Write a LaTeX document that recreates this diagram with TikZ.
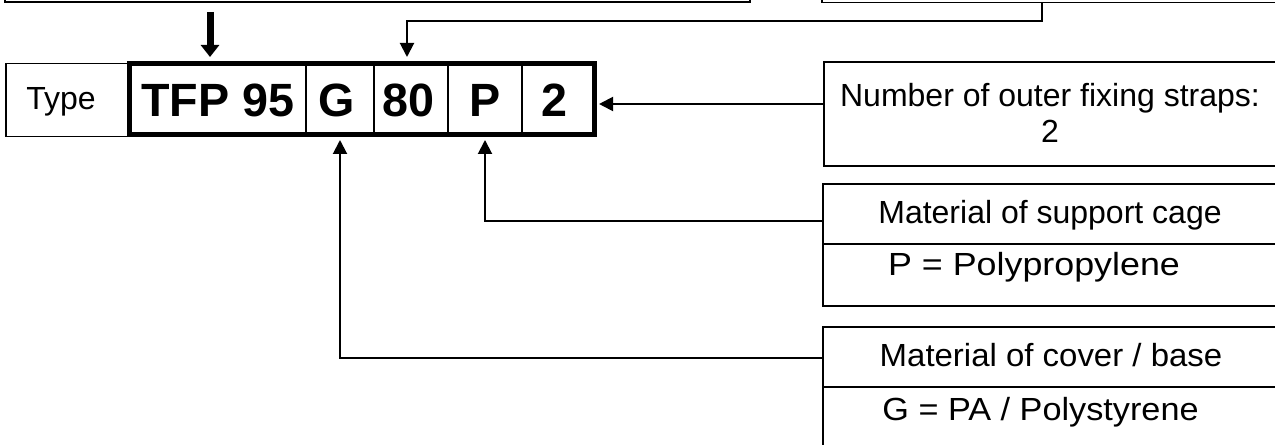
\documentclass[tikz,border=0pt]{standalone}
\usepackage{fontspec}
\setmainfont{Liberation Sans}
\usetikzlibrary{arrows.meta}
\begin{document}
\begin{tikzpicture}[x=0.75pt,y=-0.75pt,
  box/.style={draw,line width=1.1pt,rectangle,inner sep=0pt,outer sep=0pt},
  cell/.style={box,minimum height=71*0.75pt,font=\fontsize{35}{40}\selectfont\bfseries,text height=25pt,text depth=0pt},
  lbl/.style={inner sep=0pt,outer sep=0pt,anchor=base,font=\fontsize{24}{27.45}\selectfont},
  conn/.style={line width=1.5pt,-{Triangle[length=10.5pt,width=10.5pt]}},
  bigarrow/.style={line width=5.25pt,-{Triangle[length=9pt,width=13.5pt]}}]
\useasboundingbox (0,0) rectangle (1275,445);
% top boxes (cut off by the page edge)
\node[box,minimum width=745*0.75pt,minimum height=52*0.75pt] (topL) at (377.5,-24) {};
\node[box,minimum width=458*0.75pt,minimum height=52.5*0.75pt] (topR) at (1051,-23.75) {};
% type row
\node[box,minimum width=123.5*0.75pt,minimum height=73*0.75pt] (typeb) at (67.75,100) {};
\node[lbl] (typet) at (61,110) {Type};
\node[cell,minimum width=176.5*0.75pt] (c1) at (217.75,99.5) {TFP 95};
\node[cell,minimum width=68*0.75pt] (c2) at (340,99.5) {\hspace*{-5pt}G};
\node[cell,minimum width=74*0.75pt] (c3) at (411,99.5) {\hspace*{-4pt}80};
\node[cell,minimum width=74*0.75pt] (c4) at (485,99.5) {P};
\node[cell,minimum width=72.5*0.75pt] (c5) at (558.25,99.5) {\hspace*{-6pt}2};
\draw[line width=3.75pt] (c1.north west) rectangle (c5.south east);
% right boxes
\node[box,minimum width=453*0.75pt,minimum height=104*0.75pt] (box1) at (1050.5,114) {};
\node[lbl] (n1) at (1050,107) {Number of outer fixing straps:};
\node[lbl] (n2) at (1050,143) {2};
\node[box,minimum width=454*0.75pt,minimum height=60*0.75pt] (b2a) at (1050,214) {};
\node[box,minimum width=454*0.75pt,minimum height=62*0.75pt] (b2b) at (1050,275) {};
\node[lbl] (m1) at (1050,224) {Material of support cage};
\node[lbl] (m2) at (1034,276) {\scalebox{1.12}[1]{P = Polypropylene}};
\node[box,minimum width=454*0.75pt,minimum height=60*0.75pt] (b3a) at (1050,357) {};
\node[box,minimum width=454*0.75pt,minimum height=113*0.75pt] (b3b) at (1050,443.5) {};
\node[lbl] (g1) at (1051,367) {\scalebox{1.03}[1]{Material of cover / base}};
\node[lbl] (g2) at (1040.5,420) {\scalebox{1.07}[1]{G = PA / Polystyrene}};
% connectors
\coordinate (ta) at (210,12);
\draw[bigarrow,shorten >=5.25pt] (ta) -- (ta |- c1.north);
\coordinate (k1) at (1042,21.5);
\coordinate (k2) at (407,21.5);
\draw[conn,shorten >=5.25pt] (topR.south -| k1) -- (k1) -- (k2) -- (k2 |- c3.north);
\coordinate (a2) at (824,104);
\draw[conn,shorten >=3.4pt] (box1.west |- a2) -- (c5.east |- a2);
\coordinate (pj) at (823,221);
\draw[conn,shorten >=3.75pt] (b2a.west |- pj) -| (c4.south);
\coordinate (gj) at (823,358);
\draw[conn,shorten >=3.75pt] (b3a.west |- gj) -| (c2.south);
\end{tikzpicture}
\end{document}
